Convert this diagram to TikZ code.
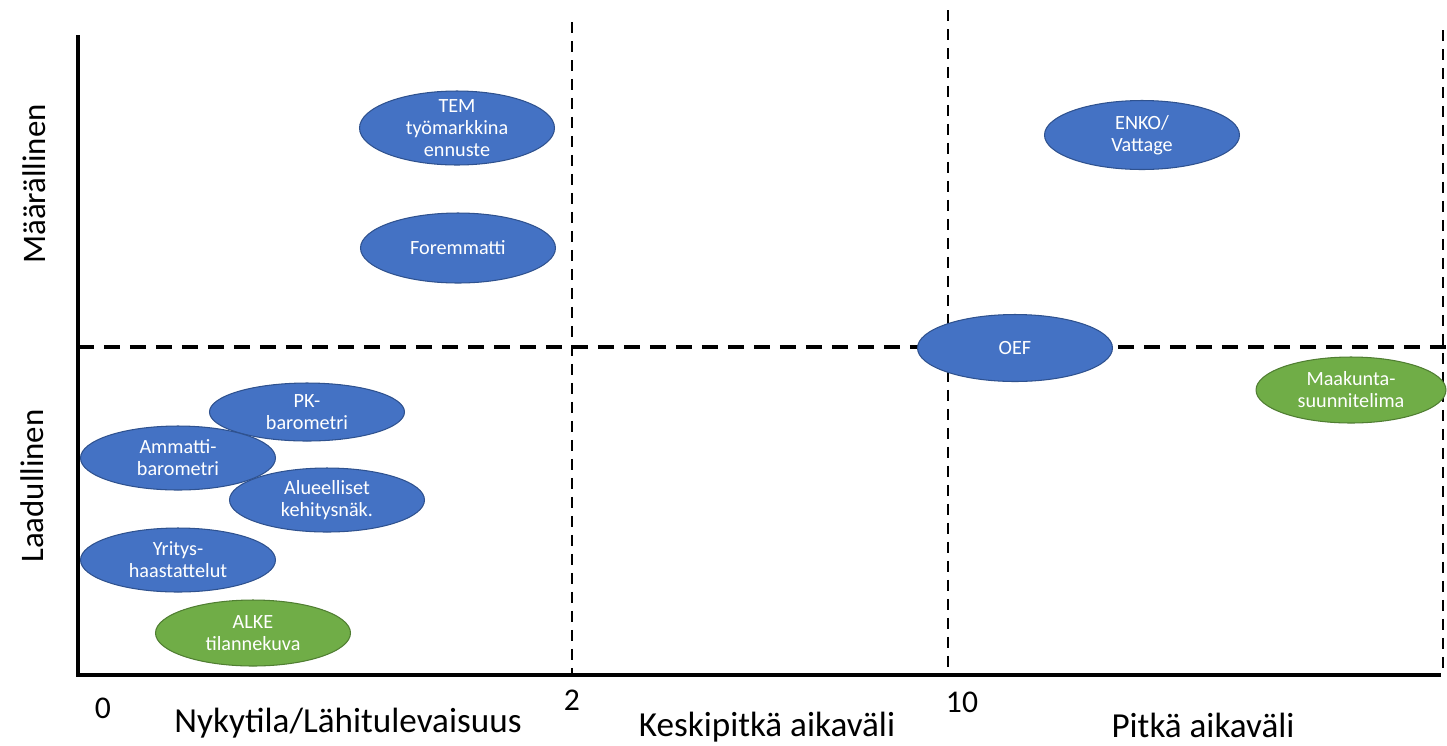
\documentclass[tikz,border=0pt]{standalone}
\usepackage{fontspec}
\setmainfont{Carlito}
\usetikzlibrary{shapes.geometric}

\definecolor{bluefill}{HTML}{4472C4}
\definecolor{blueline}{HTML}{2F528F}
\definecolor{greenfill}{HTML}{70AD47}
\definecolor{greenline}{HTML}{507E32}

\begin{document}
\begin{tikzpicture}[x=0.02cm, y=-0.02cm,
    axis/.style={line width=2.8pt},
    divider/.style={line width=1.6pt, dash pattern=on 0.22cm off 0.16cm},
    level/.style={line width=2pt, dash pattern=on 0.32cm off 0.2cm},
    srctext/.style={text=white, align=center,
      font=\fontsize{11.5}{12.5}\selectfont},
    source/.style={ellipse, draw=blueline, fill=bluefill, line width=0.6pt,
      inner sep=0pt, minimum width=3.9cm, minimum height=1.28cm,
      label={[srctext]center:#1}},
    plan/.style={source=#1, draw=greenline, fill=greenfill},
    timelabel/.style={font=\fontsize{20}{24}\selectfont},
    ticklabel/.style={font=\fontsize{18}{22}\selectfont}
  ]
  \useasboundingbox (0,0) rectangle (1447,745);

  % axes and dividers
  \coordinate (O) at (78,675);
  \draw[divider] (572,22) -- (572,675);
  \draw[divider] (948,10) -- (948,675);
  \draw[divider] (1443,30) -- (1443,675);
  \draw[level] (78,347) -- (1447,347);
  \draw[axis]
    (78,35) -- (O) -- (1441,675)
  ;

  % tick and axis labels
  \node (t0) [ticklabel] at (103,708) {0};
  \node (t2) [ticklabel] at (572,700) {2};
  \node (t10) [ticklabel] at (962,702) {10};
  \node (now) [timelabel, anchor=base] at (348,732) {Nykytila/Lähitulevaisuus};
  \node (mid) [timelabel, anchor=base] at (767,736) {Keskipitkä aikaväli};
  \node (long) [timelabel, anchor=base] at (1203,737) {Pitkä aikaväli};
  \node (quant) [timelabel, font=\fontsize{18.7}{22}\selectfont, rotate=90] at (34,184) {Määrällinen};
  \node (qual) [timelabel, font=\fontsize{18.7}{22}\selectfont, rotate=90] at (32,486) {Laadullinen};

  % sources
  \node (tem) [source={TEM\\työmarkkina\\ennuste}, minimum height=1.48cm] at (457,128) {};
  \node (forem) [source=Foremmatti, minimum height=1.4cm] at (458,248) {};
  \node (enko) [source={ENKO/\\Vattage}, minimum height=1.38cm] at (1142,135) {};
  \node (oef) [source=OEF, minimum height=1.34cm] at (1015,348) {};
  \node (maak) [plan={Maakunta-\\suunnitelima}, minimum width=3.8cm, minimum height=1.32cm] at (1351,390) {};
  \node (pk) [source={PK-\\barometri}, minimum height=1.16cm] at (307,412) {};
  \node (amm) [source={Ammatti-\\barometri}] at (178,458) {};
  \node (alue) [source={Alueelliset\\kehitysnäk.}] at (327,500) {};
  \node (yrit) [source={Yritys-\\haastattelut}] at (178,560) {};
  \node (alke) [plan={ALKE\\tilannekuva}, minimum height=1.32cm] at (253,633) {};
\end{tikzpicture}
\end{document}
